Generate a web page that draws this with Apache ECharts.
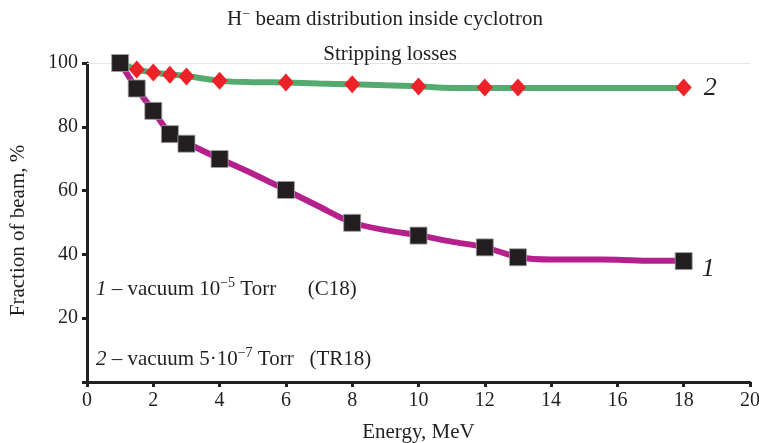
<!DOCTYPE html>
<html>
<head>
<meta charset="utf-8">
<script src="https://cdn.jsdelivr.net/npm/echarts@6/dist/echarts.min.js"></script>
<style>
  html, body { margin: 0; padding: 0; background: #fff; }
  #chart { width: 759px; height: 443px; }
</style>
</head>
<body>
<div id="chart"></div>
<script>
const FONT = '"Liberation Serif", "DejaVu Serif", serif'
const INK = '#231f20'

// curve 1: vacuum 1e-5 Torr (C18) - line points and marker points
const line1 = [[1, 100], [1.5, 92], [2, 85], [2.5, 78], [3, 75], [4, 70], [5, 65.3], [6, 60.2], [7, 55], [8, 50],
  [9, 47.6], [10, 46], [11, 44], [12, 42.2], [13, 39.2], [14, 38.4], [15, 38.4], [16, 38.3], [17, 38], [18, 38]]
const marks1 = [[1, 100], [1.5, 92], [2, 85], [2.5, 77.7], [3, 74.7], [4, 69.9], [6, 60.2], [8, 49.9],
  [10, 45.9], [12, 42.2], [13, 39.1], [18, 37.9]]

// curve 2: vacuum 5e-7 Torr (TR18)
const line2 = [[1, 100], [1.5, 98], [2, 97], [2.5, 96.4], [3, 95.9], [4, 94.4], [5, 94], [6, 93.9], [7, 93.6],
  [8, 93.3], [9, 93], [10, 92.7], [11, 92.2], [12, 92.2], [13, 92.2], [14, 92.2], [15, 92.2], [16, 92.2], [17, 92.2], [18, 92.2]]
const marks2 = [[1, 100], [1.5, 98], [2, 97], [2.5, 96.3], [3, 95.8], [4, 94.4], [6, 93.9], [8, 93.3],
  [10, 92.6], [12, 92.3], [13, 92.3], [18, 92.3]]

const chart = echarts.init(document.getElementById('chart'))

const rich = {
  n: { fontFamily: FONT, fontSize: 21, color: INK },
  i: { fontFamily: FONT, fontSize: 21, color: INK, fontStyle: 'italic' },
  sup: { fontFamily: FONT, fontSize: 14, color: INK, padding: [0, 0, 12, 0] },
  t: { fontFamily: FONT, fontSize: 21, color: INK },
  tsup: { fontFamily: FONT, fontSize: 14, color: INK, padding: [0, 0, 10, 0] }
}

const option = {
  animation: false,
  title: [
    {
      text: '{t|H}{tsup|−}{t| beam distribution inside cyclotron}',
      left: 380, top: 2, textAlign: 'center',
      textStyle: { fontFamily: FONT, fontSize: 21, fontWeight: 'normal', color: INK, rich: rich }
    },
    {
      text: 'Stripping losses',
      left: 385, top: 39, textAlign: 'center',
      textStyle: { fontFamily: FONT, fontSize: 21, fontWeight: 'normal', color: INK }
    }
  ],
  grid: { left: 87, right: 9, top: 63, bottom: 61, outerBoundsMode: 'none' },
  xAxis: [
    {
      type: 'value', min: 0, max: 20, interval: 2,
      name: 'Energy, MeV', nameLocation: 'middle', nameGap: 40,
      nameTextStyle: { fontFamily: FONT, fontSize: 21, color: INK },
      axisLine: { lineStyle: { color: INK, width: 3 } },
      axisTick: { show: true, length: 5, lineStyle: { color: INK, width: 3 } },
      axisLabel: { fontFamily: FONT, fontSize: 20, color: INK, margin: 9 },
      splitLine: { show: false }
    },
    {
      type: 'value', min: 0, max: 20, position: 'top',
      axisLine: { show: true, lineStyle: { color: '#e6e6e6', width: 1 } },
      axisTick: { show: false }, axisLabel: { show: false }, splitLine: { show: false }
    }
  ],
  yAxis: {
    type: 'value', min: 0, max: 100, interval: 20,
    name: 'Fraction of beam, %', nameLocation: 'middle', nameGap: 58,
    nameTextStyle: { fontFamily: FONT, fontSize: 21, color: INK, padding: [0, 16, 0, 0] },
    axisLine: { show: true, lineStyle: { color: INK, width: 3 } },
    axisTick: { show: true, length: 5, lineStyle: { color: INK, width: 3 } },
    axisLabel: {
      fontFamily: FONT, fontSize: 20, color: INK, margin: 9,
      formatter: v => (v === 0 ? '' : v)
    },
    splitLine: { show: false }
  },
  series: [
    {
      type: 'line', data: line2, smooth: 0.3, symbol: 'none', z: 2,
      lineStyle: { color: '#55aa6f', width: 6 },
      endLabel: { show: true, formatter: '2', fontFamily: FONT, fontStyle: 'italic', fontSize: 26, color: INK, distance: 20 }
    },
    {
      type: 'line', data: line1, smooth: 0.3, symbol: 'none', z: 3,
      lineStyle: { color: '#b5208d', width: 6 },
      endLabel: { show: true, formatter: '1', fontFamily: FONT, fontStyle: 'italic', fontSize: 26, color: INK, distance: 18, offset: [0, 8] }
    },
    {
      type: 'scatter', data: marks2, symbol: 'diamond', symbolSize: [16, 18], z: 4,
      itemStyle: { color: '#ed2128', opacity: 1 }
    },
    {
      type: 'scatter', data: marks1, symbol: 'rect', symbolSize: 17, z: 5,
      itemStyle: { color: INK, opacity: 1, borderColor: '#a0a0a0', borderWidth: 0.8 }
    }
  ],
  graphic: [
    {
      type: 'text', left: 96, top: 276,
      style: { text: '{i|1}{n| – vacuum 10}{sup|−5}{n| Torr      (C18)}', rich: rich, fontFamily: FONT, fontSize: 21, fill: INK }
    },
    {
      type: 'text', left: 96, top: 346,
      style: { text: '{i|2}{n| – vacuum 5·10}{sup|−7}{n| Torr   (TR18)}', rich: rich, fontFamily: FONT, fontSize: 21, fill: INK }
    }
  ]
}

chart.setOption(option)
</script>
</body>
</html>
